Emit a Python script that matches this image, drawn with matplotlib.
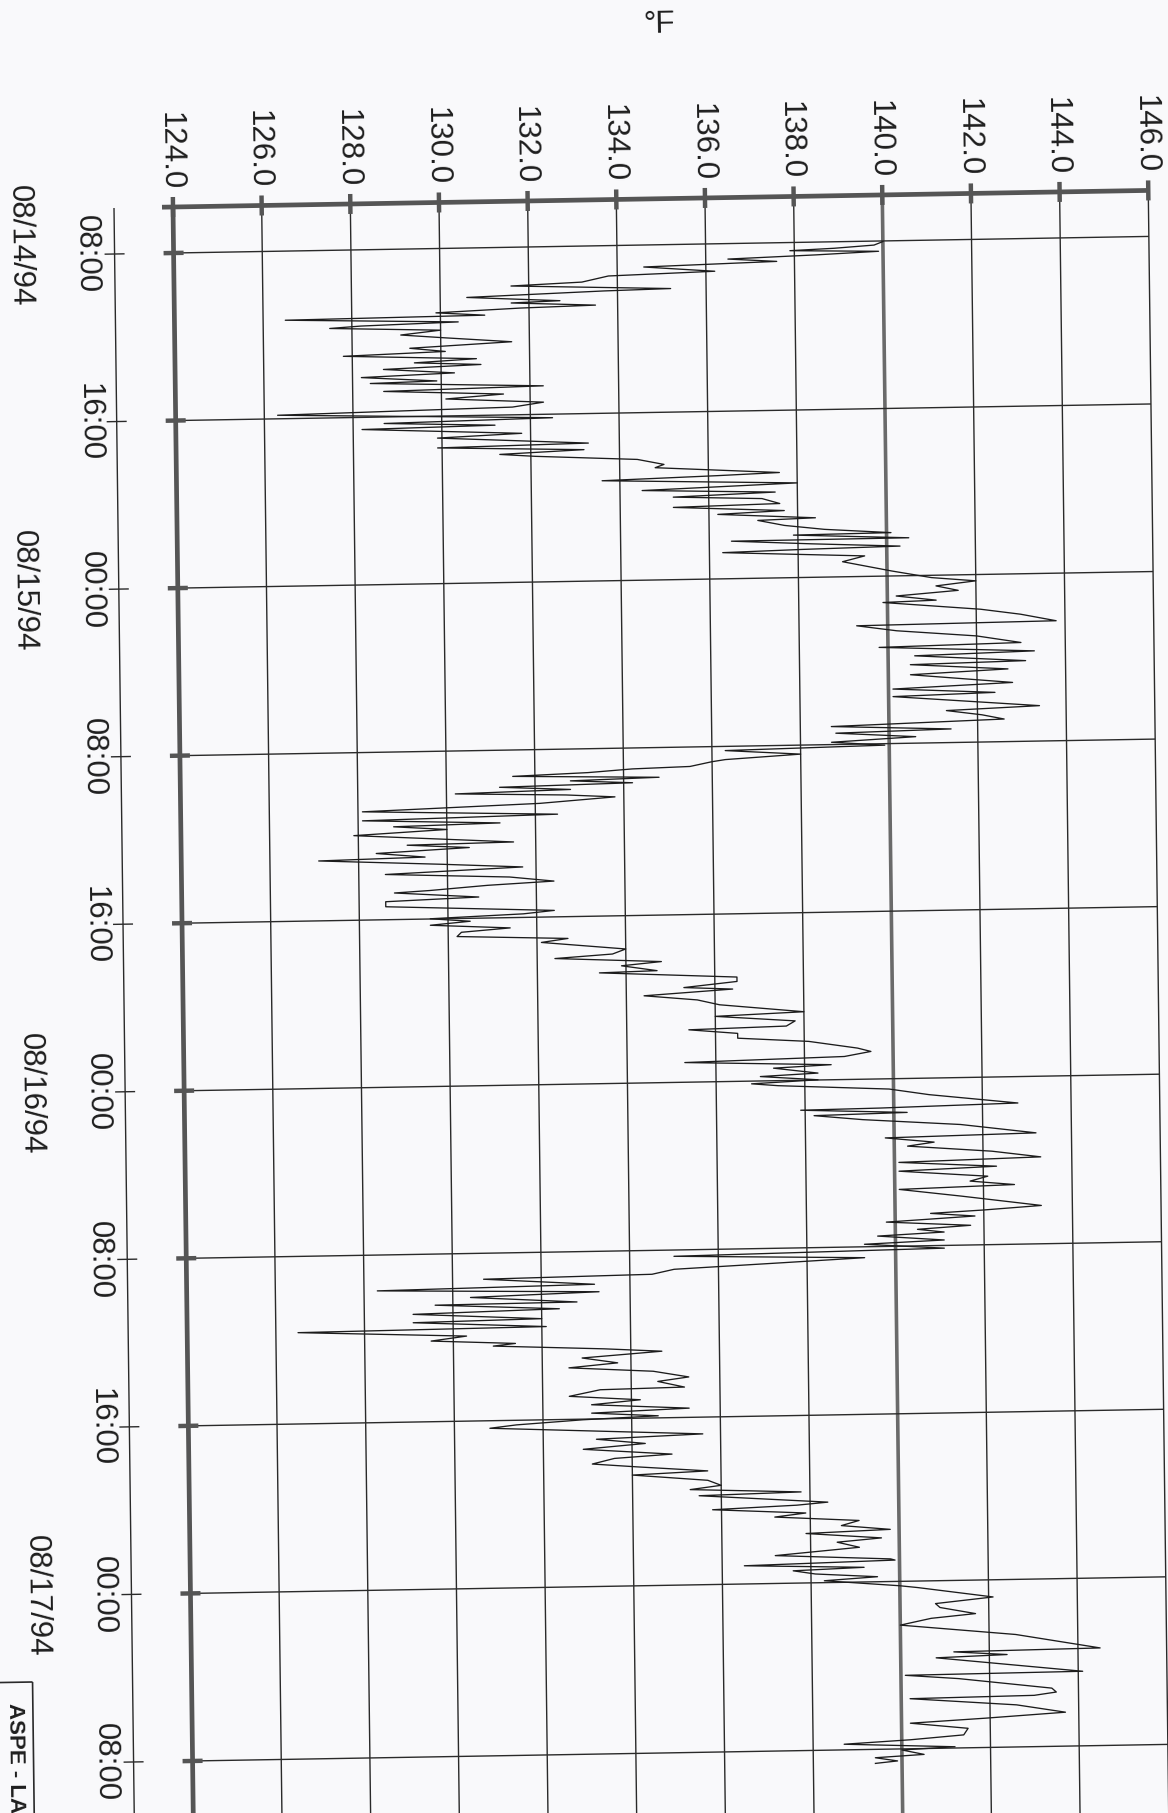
import numpy as np
import matplotlib
matplotlib.use("Agg")
import matplotlib.pyplot as plt
from matplotlib.transforms import Affine2D

plt.rcParams["font.family"] = ["Liberation Sans", "DejaVu Sans"]

# ---- data -------------------------------------------------------------
# elapsed hours after 08:00 on 08/14/94
hours = [
    0.03, 0.19, 0.31, 0.39, 0.49, 0.61, 0.74, 0.89, 1.05, 1.31, 1.45, 1.72, 1.85, 2.10, 2.16,
    2.36, 2.59, 2.66, 2.83, 2.91, 3.07, 3.22, 3.30, 3.52, 3.64, 3.73, 3.90, 4.10, 4.27, 4.51,
    4.62, 4.74, 4.92, 5.07, 5.29, 5.44, 5.57, 5.73, 5.95, 6.10, 6.32, 6.39, 6.64, 6.78, 7.00,
    7.19, 7.42, 7.63, 7.83, 8.17, 8.31, 8.48, 8.58, 8.89, 9.05, 9.41, 9.52, 9.72, 9.88, 10.00,
    10.23, 10.49, 10.64, 10.97, 11.07, 11.22, 11.48, 11.72, 11.90,
    12.06, 12.20, 12.45, 12.55, 12.79, 12.92, 13.16, 13.24, 13.50, 13.72, 13.93, 13.97, 14.19,
    14.21, 14.40, 14.58, 14.66, 14.75, 15.02, 15.28, 15.76, 16.11, 16.30, 16.51, 16.74, 16.96,
    17.19, 17.26, 17.66, 17.93, 18.27, 18.35, 18.62, 18.93, 19.28, 19.40, 19.69, 19.83, 20.15,
    20.25, 20.53, 20.73, 21.18, 21.40, 21.64, 21.76, 22.31, 22.47, 22.70, 22.92, 23.14, 23.35,
    23.46, 23.69, 23.89, 24.07, 24.20, 24.43, 24.63,
    24.72, 24.93, 25.00, 25.14, 25.26, 25.42, 25.52, 25.66, 25.77, 25.93, 26.05, 26.19, 26.32,
    26.57, 26.83, 27.10, 27.26, 27.47, 27.57, 27.74, 27.96, 28.39, 28.46, 28.62, 28.83, 29.04,
    29.14, 29.40, 29.59, 29.84, 30.06, 30.29, 30.44, 30.64, 30.73, 30.99, 31.14, 31.38, 31.69,
    31.83, 31.99, 32.14, 32.30, 32.49, 32.66, 32.86, 33.04, 33.21, 33.59, 33.82, 33.99, 34.22,
    34.39, 34.65, 34.71, 35.02, 35.23, 35.48, 35.59, 35.84, 36.08, 36.33, 36.73, 36.88, 37.16,
    37.40,
    37.50, 37.71, 37.94, 38.15, 38.51, 38.68, 38.90, 39.06, 39.28, 39.40, 39.67, 39.79, 39.99,
    40.13, 40.24, 40.49, 40.79, 41.26, 41.39, 41.43, 41.62, 41.70, 41.93, 42.24, 42.70, 42.82,
    43.06, 43.23, 43.54, 43.85, 44.00, 44.26, 44.42, 44.73, 44.95, 45.15, 45.29, 45.66, 46.17,
    46.34, 46.46, 46.62, 46.84, 47.06, 47.21, 47.36, 47.50, 47.74, 47.88, 48.13, 48.30, 48.52,
    48.69, 48.92, 49.14, 49.24, 49.57, 49.71,
    49.93, 50.10, 50.40, 50.44, 50.71, 50.86, 51.17, 51.26, 51.55, 51.64, 51.94, 52.15, 52.33,
    52.44, 52.66, 52.82, 53.08, 53.34, 53.54, 53.77, 54.07, 54.26, 54.55, 54.61, 54.90, 55.12,
    55.32, 55.56, 55.72, 55.90, 56.03, 56.22, 56.36, 56.80, 56.97, 57.21, 57.44, 57.74, 57.90,
    58.15, 58.32, 58.57, 58.71, 59.02, 59.27, 59.45, 59.65, 59.75, 60.16, 60.28, 60.43, 60.66,
    60.83, 61.06, 61.29, 61.51, 61.64, 61.91, 62.08, 62.34, 62.67, 62.92,
    62.98, 63.13, 63.30, 63.41, 63.58, 63.76, 63.91, 64.21, 64.31, 64.82, 65.09, 65.28, 65.60,
    65.79, 66.09, 66.63, 67.34, 67.41, 67.58, 67.68, 68.44, 68.49, 68.69, 69.22, 69.41, 69.55,
    69.61, 69.99, 70.38, 70.60, 70.78, 71.07, 71.38, 71.57, 71.73, 71.94, 72.05, 72.28, 72.40,
    72.57, 72.67,
]

temp_f = [
    140.0, 139.8, 138.9, 137.9, 139.9, 138.5, 136.5, 137.6, 134.6, 136.2, 133.8, 133.2, 131.6, 135.2, 133.7,
    130.6, 132.7, 131.6, 133.5, 131.8, 129.9, 131.0, 126.5, 130.4, 128.2, 127.5, 130.0, 129.1, 130.1, 131.6,
    130.5, 129.3, 130.1, 127.8, 130.8, 129.4, 130.9, 128.7, 130.3, 128.2, 129.9, 128.4, 132.3, 128.7, 131.4,
    130.1, 132.3, 131.6, 126.3, 132.5, 128.7, 131.2, 128.2, 131.8, 129.9, 133.3, 129.9, 133.2, 131.3, 132.1,
    134.4, 135.0, 134.8, 137.6, 136.2, 133.6, 138.0, 134.5, 137.5,
    135.2, 137.2, 137.6, 135.2, 137.7, 136.2, 138.4, 137.1, 137.7, 138.6, 140.1, 137.9, 140.5,
    136.5, 138.3, 140.3, 138.1, 136.3, 139.5, 139.0, 140.1, 141.0, 142.0, 141.1, 141.6, 140.2,
    141.1, 139.9, 142.1, 143.0, 143.8, 139.3, 140.2, 142.0, 143.0, 139.8, 143.3, 140.6, 143.1,
    140.5, 142.7, 140.5, 142.8, 140.1, 142.4, 140.1, 143.4, 141.3, 142.1, 142.6, 138.7, 141.4,
    138.8, 140.6, 138.7, 139.9, 136.3, 138.0, 136.3,
    136.0, 135.5, 134.2, 133.2, 131.5, 134.8, 132.8, 134.2, 131.2, 132.8, 130.2, 132.7, 133.8,
    132.1, 128.1, 132.5, 128.1, 131.2, 128.8, 130.0, 127.9, 131.5, 129.1, 130.5, 128.4, 129.5,
    127.1, 129.9, 131.7, 128.6, 131.4, 132.4, 130.9, 129.6, 128.8, 130.7, 128.6, 128.6, 132.4,
    131.7, 129.6, 130.5, 129.6, 131.4, 130.3, 130.2, 132.7, 132.1, 134.0, 133.7, 132.4, 134.8,
    133.9, 134.7, 133.4, 136.5, 136.5, 135.3, 136.4, 134.4, 135.6, 136.1, 138.0, 136.0, 137.8,
    137.6,
    135.4, 136.5, 136.5, 138.1, 139.2, 139.5, 138.9, 135.3, 138.6, 137.3, 138.3, 137.0, 138.3,
    136.8, 137.4, 139.9, 140.8, 142.8, 139.7, 137.9, 140.3, 138.2, 139.3, 141.5, 143.2, 139.8,
    140.9, 140.3, 142.2, 143.3, 140.1, 142.3, 140.1, 142.1, 141.7, 142.7, 140.1, 141.5, 143.3,
    142.0, 140.8, 141.8, 139.8, 141.7, 140.5, 141.1, 139.6, 141.1, 139.3, 141.1, 135.0, 139.3,
    137.5, 135.0, 134.5, 130.7, 133.2, 128.3,
    133.3, 130.4, 132.8, 129.6, 132.4, 129.1, 132.0, 129.1, 132.1, 126.5, 130.3, 129.5, 131.4,
    130.9, 133.4, 134.7, 132.9, 133.7, 132.6, 134.5, 135.3, 134.6, 135.2, 133.3, 132.6, 134.2,
    133.1, 135.3, 133.1, 134.6, 132.9, 131.4, 130.8, 135.6, 133.2, 134.3, 132.9, 134.9, 133.6,
    133.1, 134.1, 135.7, 134.0, 135.7, 136.0, 135.3, 137.8, 135.5, 138.4, 137.7, 135.8, 137.9,
    137.2, 139.1, 138.7, 139.8, 137.9, 139.6, 138.6, 139.1, 137.2, 139.8,
    139.9, 136.5, 139.2, 137.6, 138.1, 139.5, 138.3, 140.0, 140.4, 142.1, 140.8, 140.9, 141.7,
    140.7, 140.0, 142.6, 144.5, 141.2, 142.4, 140.8, 144.1, 140.1, 141.3, 143.4, 143.5, 143.0,
    140.2, 142.6, 143.7, 141.9, 140.2, 141.5, 141.4, 140.2, 138.7, 141.2, 140.0, 140.5, 139.4,
    139.9, 139.4,
]

temp_ticks = [124.0, 126.0, 128.0, 130.0, 132.0, 134.0, 136.0, 138.0, 140.0, 142.0, 144.0, 146.0]
time_ticks = [0, 8, 16, 24, 32, 40, 48, 56, 64, 72]
time_labels = ["08:00", "16:00", "00:00", "08:00", "16:00",
               "00:00", "08:00", "16:00", "00:00", "08:00"]
date_labels = ["08/14/94", "08/15/94", "08/16/94", "08/17/94"]
date_hours = [-0.5, 16, 40, 64]
unit_label = "°F"
stamp_label = "ASPE - LA"

# ---- page geometry (pixels) -----------------------------------------
W, H, DPI = 1168, 1813, 100
LEFT, TOP = 173, 207            # corner where the 124.0 line meets the top axis
PX_PER_F = 44.33
PX_PER_H = 20.944
H_TOP = -46 / PX_PER_H
H_BOT = H_TOP + (H + 80 - TOP) / PX_PER_H
SKEW_A, SKEW_B = 0.0126, 0.0170  # sheet sits slightly askew on the scanner

fig = plt.figure(figsize=(W / DPI, H / DPI), dpi=DPI)
fig.patch.set_facecolor("#f9f9fb")
ax_h = (H_BOT - H_TOP) * PX_PER_H
ax = fig.add_axes([LEFT / W, 1 - (TOP + ax_h) / H, 22 * PX_PER_F / W, ax_h / H])
ax.set_xlim(124, 146)
ax.set_ylim(H_BOT, H_TOP)
ax.axis("off")

px, py = LEFT, H - TOP
skew = (Affine2D().translate(-px, -py)
        + Affine2D(np.array([[1.0, -SKEW_A, 0.0], [SKEW_B, 1.0, 0.0], [0.0, 0.0, 1.0]]))
        + Affine2D().translate(px, py))
T = ax.transData + skew
vrot = -90 + np.degrees(np.arctan(SKEW_A))
hrot = np.degrees(np.arctan(SKEW_B))

def seg(xs, ys, **kw):
    ax.plot(xs, ys, transform=T, clip_on=False, solid_capstyle="butt", **kw)

dh = 10 / PX_PER_H   # 10 px in hours
df = 10 / PX_PER_F   # 10 px in degrees

# grid
for t in temp_ticks:
    if t == 124.0:
        continue
    if t == 140.0:
        seg([t, t], [H_TOP, H_BOT], color="#6a6a6a", lw=2.6, zorder=2)
    else:
        seg([t, t], [H_TOP, H_BOT], color="#2a2a2a", lw=1.0, zorder=2)
for h in time_ticks:
    seg([124, 146], [h, h], color="#2a2a2a", lw=1.0, zorder=2)

# axes
seg([124 - 11 / PX_PER_F, 146], [H_TOP, H_TOP], color="#555555", lw=3.4, zorder=4)
seg([124, 124], [H_TOP, H_BOT], color="#555555", lw=3.4, zorder=4)
for t in temp_ticks:
    seg([t, t], [H_TOP - dh, H_TOP + dh], color="#555555", lw=3.2, zorder=4)
for h in time_ticks:
    seg([124 - df, 124 + df], [h, h], color="#555555", lw=3.2, zorder=4)

# secondary time axis
TAX = 124 - 59 / PX_PER_F
seg([TAX, TAX], [H_TOP, H_BOT], color="#2a2a2a", lw=1.0, zorder=2)
for h in time_ticks:
    seg([TAX - df, TAX + df], [h, h], color="#2a2a2a", lw=1.0, zorder=2)

# data trace
ax.plot(temp_f, hours, transform=T, clip_on=False, color="#1c1c1c", lw=0.95, zorder=3)

# labels
FS = 22.5
for t in temp_ticks:
    ax.text(t - 3 / PX_PER_F, H_TOP - 17 / PX_PER_H, f"{t:.1f}", transform=T,
            rotation=vrot, ha="center", va="bottom", fontsize=FS, color="#1e1e1e",
            clip_on=False)
for h, lab in zip(time_ticks, time_labels):
    ax.text(124 - 87 / PX_PER_F, h, lab, transform=T, rotation=vrot,
            ha="center", va="center", fontsize=FS, color="#1e1e1e", clip_on=False)
for h, lab in zip(date_hours, date_labels):
    ax.text(124 - 154 / PX_PER_F, h, lab, transform=T, rotation=vrot,
            ha="center", va="center", fontsize=FS, color="#1e1e1e", clip_on=False)
ax.text(124 + 488 / PX_PER_F, H_TOP - 174 / PX_PER_H, unit_label, transform=T,
        rotation=hrot, ha="center", va="center", fontsize=FS, color="#1e1e1e",
        clip_on=False)

# stamp box in the lower corner
BOX_X = 124 - 159 / PX_PER_F
BOX_H = 68.1
seg([BOX_X, BOX_X], [BOX_H, H_BOT], color="#2a2a2a", lw=1.2, zorder=2)
seg([124 - 200 / PX_PER_F, BOX_X], [BOX_H, BOX_H], color="#2a2a2a", lw=1.2, zorder=2)
ax.text(124 - 177 / PX_PER_F, BOX_H + 1.0, stamp_label, transform=T, rotation=vrot,
        ha="center", va="top", fontsize=16, fontweight="bold", color="#1e1e1e",
        clip_on=False)

fig.savefig("out.png", dpi=DPI, facecolor=fig.get_facecolor())
